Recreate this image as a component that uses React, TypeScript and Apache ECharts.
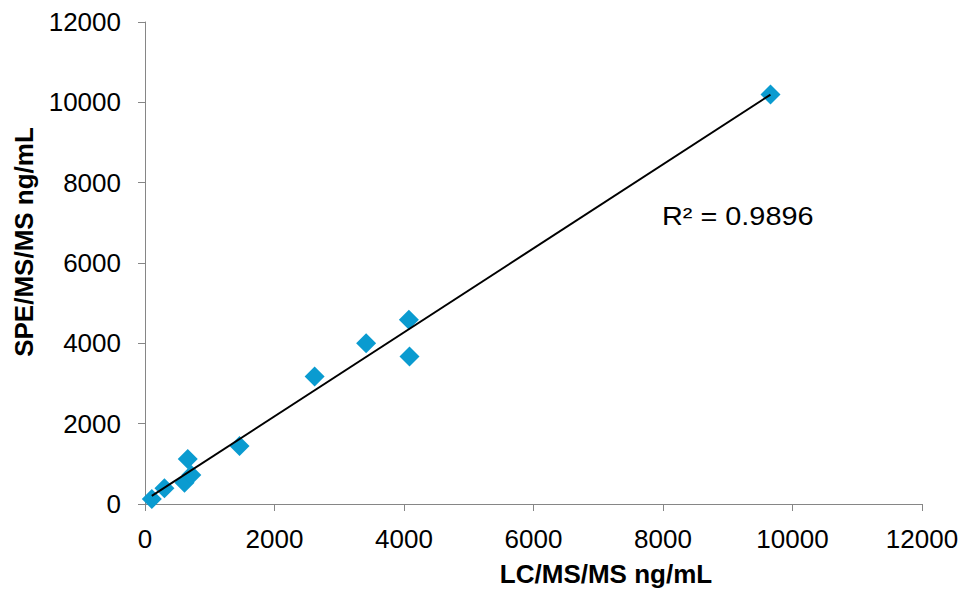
import React, { useEffect, useRef } from "react";
import * as echarts from "echarts";

// LC/MS/MS (x) vs SPE/MS/MS (y), ng/mL
const lcValues = [105, 300, 610, 660, 715, 1460, 2620, 3415, 4075, 4085, 9660];
const speValues = [125, 390, 530, 1120, 725, 1445, 3175, 4005, 4590, 3670, 10195];
const axisTicks = [0, 2000, 4000, 6000, 8000, 10000, 12000];
const xTitle = "LC/MS/MS ng/mL";
const yTitle = "SPE/MS/MS ng/mL";
const r2Label = "R² = 0.9896";

const FONT = "'Liberation Sans', Arial, sans-serif";

function linearFit(xs: number[], ys: number[]) {
  const n = xs.length;
  const mx = xs.reduce((a, b) => a + b, 0) / n;
  const my = ys.reduce((a, b) => a + b, 0) / n;
  let sxy = 0;
  let sxx = 0;
  for (let i = 0; i < n; i++) {
    sxy += (xs[i] - mx) * (ys[i] - my);
    sxx += (xs[i] - mx) * (xs[i] - mx);
  }
  const slope = sxy / sxx;
  return { slope, intercept: my - slope * mx };
}

export default function App() {
  const ref = useRef<HTMLDivElement>(null);

  useEffect(() => {
    if (!ref.current) return;
    const chart = echarts.init(ref.current, undefined, { renderer: "svg" });
    const points = lcValues.map((x, i) => [x, speValues[i]]);
    const { slope, intercept } = linearFit(lcValues, speValues);
    const xMin = Math.min(...lcValues);
    const xMax = Math.max(...lcValues);
    const trend = [
      [xMin, intercept + slope * xMin],
      [xMax, intercept + slope * xMax],
    ];
    const axisColor = "#868686";
    const common = {
      type: "value" as const,
      min: axisTicks[0],
      max: axisTicks[axisTicks.length - 1],
      interval: axisTicks[1] - axisTicks[0],
      splitLine: { show: false },
      axisLine: { show: true, lineStyle: { color: axisColor, width: 1 } },
      axisTick: { show: true, inside: false, length: 7, lineStyle: { color: axisColor } },
    };
    const fmt = (v: number) => String(v);
    chart.setOption({
      animation: false,
      backgroundColor: "#ffffff",
      grid: { left: 145, right: 41, top: 22, bottom: 86 },
      xAxis: {
        ...common,
        axisLabel: { color: "#000", fontFamily: FONT, fontSize: 26, margin: 22, formatter: fmt },
      },
      yAxis: {
        ...common,
        axisLabel: { color: "#000", fontFamily: FONT, fontSize: 26, margin: 24, formatter: fmt },
      },
      series: [
        {
          type: "scatter",
          data: points,
          symbol: "diamond",
          symbolSize: 20,
          itemStyle: { color: "#0a9bd0", opacity: 1 },
          z: 2,
        },
        {
          type: "line",
          data: trend,
          symbol: "none",
          lineStyle: { color: "#000", width: 2 },
          z: 3,
        },
      ],
      graphic: [
        {
          type: "text",
          x: 606,
          y: 574,
          style: {
            text: xTitle,
            font: `bold 26px ${FONT}`,
            fill: "#000",
            align: "center",
            verticalAlign: "middle",
          },
        },
        {
          type: "text",
          x: 24,
          y: 242,
          rotation: Math.PI / 2,
          style: {
            text: yTitle,
            font: `bold 26px ${FONT}`,
            fill: "#000",
            align: "center",
            verticalAlign: "middle",
          },
        },
        {
          type: "text",
          x: 662,
          y: 216,
          scaleX: 1.11,
          style: {
            text: r2Label,
            font: `26px ${FONT}`,
            fill: "#000",
            align: "left",
            verticalAlign: "middle",
          },
        },
      ],
    });
    return () => chart.dispose();
  }, []);

  return (
    <div
      ref={ref}
      style={{ position: "fixed", left: 0, top: 0, width: 963, height: 590 }}
    />
  );
}
